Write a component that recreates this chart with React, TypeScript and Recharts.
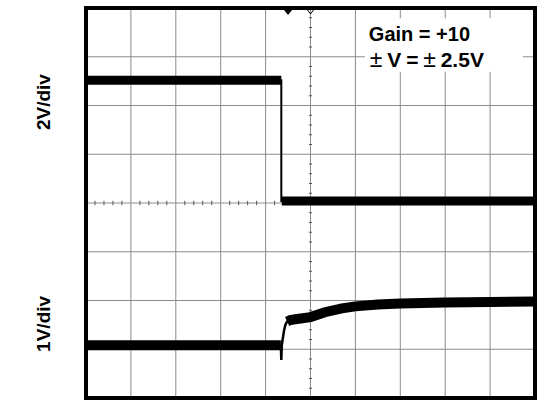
import {
  LineChart,
  Line,
  XAxis,
  YAxis,
  CartesianGrid,
  ReferenceArea,
  ReferenceLine,
  ReferenceDot,
} from "recharts";

// scope screen: 10 horizontal divisions, 8 vertical divisions
const gridX = [0, 1, 2, 3, 4, 5, 6, 7, 8, 9, 10];
const gridY = [0, 1, 2, 3, 4, 5, 6, 7, 8];

// minor ticks on the centre cross (every 1/5 division)
const minorX = Array.from({ length: 51 }, (_, i) => i / 5).filter((v) => v % 1 !== 0);
const minorY = Array.from({ length: 41 }, (_, i) => i / 5).filter((v) => v % 1 !== 0);

// channel 1 (input, 2V/div) – step down
const inTime = [0, 4.35, 4.35, 4.36, 10];
const inVolts = [6.52, 6.52, 4.04, 4.04, 4.04];
const inBand = [6.52, 6.52, null, 4.04, 4.04];

// channel 2 (output, 1V/div) – fast edge then slow settling
const outTime = [0, 4.34, 4.35, 4.36, 4.38, 4.41, 4.44, 4.48, 4.55, 4.7, 5.0, 5.32, 5.7, 6.0, 6.5, 7.0, 8.0, 9.0, 10];
const outVolts = [1.08, 1.08, 0.78, 1.08, 1.2, 1.38, 1.5, 1.57, 1.6, 1.62, 1.66, 1.76, 1.84, 1.88, 1.92, 1.94, 1.96, 1.97, 1.98];
const outBand = [1.08, 1.08, null, null, null, null, null, 1.57, 1.6, 1.62, 1.66, 1.76, 1.84, 1.88, 1.92, 1.94, 1.96, 1.97, 1.98];

const channelLabels = ["1V/div", "2V/div"];
const channelLabelPos = [1.5, 6.05];

const FONT = "'Liberation Sans', Arial, sans-serif";

const toPoints = (t: number[], v: (number | null)[]) => t.map((x, i) => ({ t: x, v: v[i] }));

const ChannelTick = (props: any) => {
  const { x, y, payload } = props;
  const idx = channelLabelPos.indexOf(payload.value);
  const bx = x - 36;
  return (
    <text
      x={bx}
      y={y - 1}
      transform={`rotate(-90 ${bx} ${y - 1})`}
      textAnchor="middle"
      fontFamily={FONT}
      fontWeight="bold"
      fontSize={19}
      fill="#000"
    >
      {channelLabels[idx]}
    </text>
  );
};

const renderAnnotation = (props: any) => {
  const { x, y } = props.viewBox;
  const pm = { fontSize: 23, fontWeight: "normal" as const };
  return (
    <g fontFamily={FONT} fontWeight="bold" fill="#000">
      <text x={x + 4} y={y + 23} fontSize={20}>Gain = +10</text>
      <text x={x + 5} y={y + 49} fontSize={21} wordSpacing={-1}>
        <tspan {...pm}>±</tspan> V = <tspan {...pm}>±</tspan> 2.5V
      </text>
    </g>
  );
};

export default function App() {
  return (
    <div style={{ position: "absolute", left: 0, top: 0, width: 538, height: 403, background: "#fff" }}>
      <LineChart width={538} height={403} margin={{ top: 8, right: 3, bottom: 5, left: 0 }}>
        <XAxis type="number" dataKey="t" domain={[0, 10]} ticks={gridX} hide allowDataOverflow />
        <YAxis
          type="number"
          domain={[0, 8]}
          ticks={channelLabelPos}
          width={86}
          axisLine={false}
          tickLine={false}
          tickSize={0}
          tickMargin={0}
          tick={<ChannelTick />}
          interval={0}
          allowDataOverflow
        />
        <CartesianGrid stroke="#8c8c8c" strokeWidth={1} verticalValues={gridX} horizontalValues={gridY} />
        {minorX.map((m) => (
          <ReferenceLine
            key={`mx${m}`}
            segment={[{ x: m, y: 3.955 }, { x: m, y: 4.045 }]}
            stroke="#555"
            strokeWidth={1}
          />
        ))}
        {minorY.map((m) => (
          <ReferenceLine
            key={`my${m}`}
            segment={[{ x: 4.965, y: m }, { x: 5.035, y: m }]}
            stroke="#555"
            strokeWidth={1}
          />
        ))}
        <ReferenceArea
          x1={6.21}
          x2={9.73}
          y1={6.69}
          y2={7.79}
          fill="#fff"
          fillOpacity={1}
          stroke="none"
          label={renderAnnotation}
        />
        <Line data={toPoints(inTime, inVolts)} dataKey="v" stroke="#000" strokeWidth={2} dot={false} isAnimationActive={false} />
        <Line data={toPoints(inTime, inBand)} dataKey="v" stroke="#000" strokeWidth={9} dot={false} isAnimationActive={false} connectNulls={false} />
        <Line data={toPoints(outTime, outVolts)} dataKey="v" stroke="#000" strokeWidth={2.5} dot={false} isAnimationActive={false} />
        <Line data={toPoints(outTime, outBand)} dataKey="v" stroke="#000" strokeWidth={10} dot={false} isAnimationActive={false} connectNulls={false} />
        <ReferenceDot
          x={4.5}
          y={8}
          ifOverflow="visible"
          shape={(p: any) => (
            <path d={`M${p.cx - 4},${p.cy + 2} L${p.cx + 4},${p.cy + 2} L${p.cx},${p.cy + 7} Z`} fill="#000" />
          )}
        />
        <ReferenceDot
          x={5}
          y={8}
          ifOverflow="visible"
          shape={(p: any) => (
            <path d={`M${p.cx - 3},${p.cy + 2} L${p.cx},${p.cy + 6} L${p.cx + 3},${p.cy + 2}`} fill="none" stroke="#000" strokeWidth={1} />
          )}
        />
        <ReferenceArea x1={0} x2={10} y1={0} y2={8} fill="none" stroke="#000" strokeWidth={4} ifOverflow="visible" />
      </LineChart>
    </div>
  );
}
